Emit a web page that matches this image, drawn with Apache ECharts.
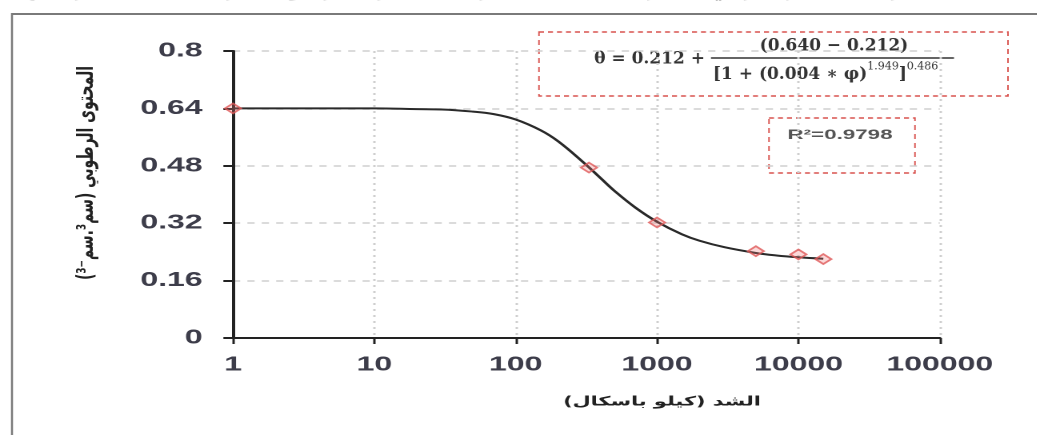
<!DOCTYPE html>
<html><head><meta charset="utf-8">
<script src="https://cdn.jsdelivr.net/npm/echarts@6/dist/echarts.min.js"></script>
<style>
html,body{margin:0;padding:0;background:#fff;overflow:hidden}
#wrap{width:1037px;height:435px;overflow:hidden;position:relative}
#c{width:648.125px;height:435px;transform:scaleX(1.6);transform-origin:0 0}
</style>
</head><body><div id="wrap"><div id="c"></div></div>
<script>
// Measured points (suction kPa, water content)
const obsSuction = [1, 330, 1000, 5000, 10000, 15000];
const obsTheta   = [0.64, 0.475, 0.322, 0.242, 0.233, 0.220];
// Fitted curve
const curveSuction = [1, 3, 10, 20, 30, 50, 70, 100, 150, 200, 300, 400, 500, 700, 1000, 1500, 2000, 3000, 5000, 7000, 10000, 15000];
const curveTheta   = [0.640, 0.640, 0.640, 0.638, 0.637, 0.631, 0.624, 0.609, 0.579, 0.548, 0.490, 0.445, 0.410, 0.364, 0.324, 0.289, 0.271, 0.253, 0.237, 0.230, 0.225, 0.221];
const yTickLabels = ['0', '0.16', '0.32', '0.48', '0.64', '0.8'];
const xTickLabels = ['1', '10', '100', '1000', '10000', '100000'];
const xTitle = 'الشد (كيلو باسكال)';
const yTitle = 'المحتوى الرطوبي (سم³.سم⁻³)';
const r2Text = 'R²=0.9798';
const captionText = 'شكل (٣) منحنى الوصف الرطوبي للتربة المقاس والمحسوب وفق نموذج فان جنوختن للعينة (٣)';

const S = 1.6; // horizontal stretch of the picture
const inv = 1 / S;
const chart = echarts.init(document.getElementById('c'), null, {renderer: 'canvas', devicePixelRatio: 2});
const tickFont = {fontFamily: 'Liberation Sans', fontWeight: 'bold', fontSize: 20, color: '#3d3d4a'};
const dashRed = '#d9534f';
const eqFont = 'bold 17px "DejaVu Serif"';
chart.setOption({
  animation: false,
  backgroundColor: '#fff',
  grid: {left: 233 * inv, right: 97 * inv, top: 51, bottom: 97, containLabel: false},
  xAxis: {
    type: 'log', logBase: 10, min: 1, max: 100000,
    axisLine: {lineStyle: {color: '#222', width: 2}},
    axisTick: {show: true, length: 6, lineStyle: {color: '#222', width: 1.5}},
    axisLabel: Object.assign({margin: 17, formatter: v => { const i = Math.round(Math.log10(v)); return xTickLabels[i] ?? ''; }}, tickFont),
    splitLine: {show: true, lineStyle: {color: '#cfcfcf', type: [2, 4], width: 1.5}},
    minorTick: {show: false}
  },
  yAxis: {
    type: 'value', min: 0, max: 0.8, interval: 0.16,
    axisLine: {show: true, lineStyle: {color: '#222', width: 2}},
    axisTick: {show: true, length: 6, lineStyle: {color: '#222', width: 2}},
    axisLabel: Object.assign({margin: 19, formatter: v => yTickLabels[Math.round(v / 0.16)] ?? ''}, tickFont),
    splitLine: {show: true, lineStyle: {color: '#cfcfcf', type: [4.5, 4.5], width: 1.5}}
  },
  series: [
    {
      type: 'line', smooth: 0.4, symbol: 'none',
      data: curveSuction.map((x, i) => [x, curveTheta[i]]),
      lineStyle: {color: '#2a2a2a', width: 2}, z: 3
    },
    {
      type: 'scatter', symbol: 'diamond', symbolSize: [10, 10],
      data: obsSuction.map((x, i) => [x, obsTheta[i]]),
      itemStyle: {color: 'rgba(240,120,120,0.35)', borderColor: '#e05a5a', borderWidth: 1.5}, z: 4
    }
  ],
  graphic: [
    {type: 'text', left: 'center', top: -17, style: {text: captionText, font: 'bold 17px "DejaVu Sans"', fill: '#000'}},
    {type: 'text', x: 87 * inv, y: 173, rotation: Math.PI / 2,
     style: {text: yTitle, font: 'bold 14px "DejaVu Sans"', fill: '#222', align: 'center', verticalAlign: 'middle'}},
    {type: 'text', x: 662 * inv, y: 402,
     style: {text: xTitle, font: 'bold 13px "DejaVu Sans"', fill: '#222', align: 'center', verticalAlign: 'middle'}},
    {type: 'text', x: 840 * inv, y: 135,
     style: {text: r2Text, font: 'bold 14px "Liberation Sans"', fill: '#555', align: 'center', verticalAlign: 'middle'}},
    // elements drawn in picture pixels (undo the stretch)
    {type: 'group', x: 0, y: 0, scaleX: inv, children: [
      {type: 'rect', shape: {x: 12, y: 14, width: 1040, height: 440}, style: {fill: 'none', stroke: '#7a7a7a', lineWidth: 2}, silent: true},
      {type: 'rect', shape: {x: 539, y: 32, width: 469, height: 64}, style: {fill: '#fff', stroke: dashRed, lineWidth: 1.5, lineDash: [5, 4]}},
      {type: 'text', x: 705, y: 59, style: {text: 'θ = 0.212 +', font: eqFont, fill: '#333', align: 'right', verticalAlign: 'middle'}},
      {type: 'text', x: 834, y: 46, style: {text: '(0.640 − 0.212)', font: eqFont, fill: '#333', align: 'center', verticalAlign: 'middle'}},
      {type: 'line', shape: {x1: 711, y1: 58, x2: 954, y2: 58}, style: {stroke: '#333', lineWidth: 1.5}},
      {type: 'text', x: 713, y: 61, style: {
        text: '{n|[1 + (0.004 ∗ φ)}{s|1.949}{n|]}{s|0.486}',
        align: 'left', verticalAlign: 'top', fill: '#333',
        rich: {
          n: {font: eqFont, fill: '#333', lineHeight: 22, verticalAlign: 'bottom'},
          s: {font: '11px "DejaVu Serif"', fill: '#333', lineHeight: 22, verticalAlign: 'top', padding: [0, 0, 8, 0]}
        }
      }},
      {type: 'rect', shape: {x: 769, y: 118, width: 146, height: 55}, style: {fill: 'none', stroke: dashRed, lineWidth: 1.5, lineDash: [5, 4]}}
    ]}
  ]
});
</script></body></html>
